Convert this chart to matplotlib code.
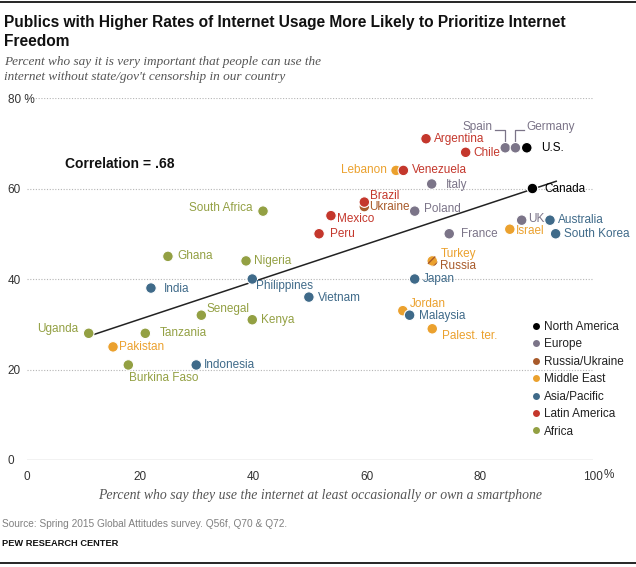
import matplotlib.pyplot as plt
from matplotlib.lines import Line2D

# data
countries = ['U.S.', 'Canada', 'Spain', 'Germany', 'Italy', 'Poland', 'UK', 'France',
             'Russia', 'Ukraine', 'Lebanon', 'Israel', 'Turkey', 'Jordan', 'Palest. ter.',
             'Australia', 'South Korea', 'Japan', 'Malaysia', 'Vietnam', 'Philippines',
             'India', 'Indonesia', 'Argentina', 'Chile', 'Venezuela', 'Brazil', 'Mexico',
             'Peru', 'South Africa', 'Ghana', 'Nigeria', 'Senegal', 'Kenya', 'Uganda',
             'Tanzania', 'Burkina Faso', 'Pakistan']
internet = [88.3, 89.3, 84.5, 86.3, 71.5, 68.5, 87.4, 74.6,
            71.6, 59.6, 65.2, 85.3, 71.6, 66.4, 71.6,
            92.4, 93.4, 68.5, 67.6, 49.8, 39.8,
            21.9, 29.9, 70.5, 77.5, 66.5, 59.6, 53.7,
            51.6, 41.7, 24.9, 38.7, 30.8, 39.8, 10.9,
            20.9, 17.9, 15.2]
freedom = [69, 60, 69, 69, 61, 55, 53, 50,
           44, 56, 64, 51, 44, 33, 29,
           53, 50, 40, 32, 36, 40,
           38, 21, 71, 68, 64, 57, 54,
           50, 55, 45, 44, 32, 31, 28,
           28, 21, 25]
region = ['North America', 'North America', 'Europe', 'Europe', 'Europe', 'Europe', 'Europe', 'Europe',
          'Russia/Ukraine', 'Russia/Ukraine', 'Middle East', 'Middle East', 'Middle East', 'Middle East', 'Middle East',
          'Asia/Pacific', 'Asia/Pacific', 'Asia/Pacific', 'Asia/Pacific', 'Asia/Pacific', 'Asia/Pacific',
          'Asia/Pacific', 'Asia/Pacific', 'Latin America', 'Latin America', 'Latin America', 'Latin America', 'Latin America',
          'Latin America', 'Africa', 'Africa', 'Africa', 'Africa', 'Africa', 'Africa',
          'Africa', 'Africa', 'Middle East']
trend_x = [11, 93.5]
trend_y = [27.4, 61.6]

regions = ['North America', 'Europe', 'Russia/Ukraine', 'Middle East', 'Asia/Pacific', 'Latin America', 'Africa']
colors = {'North America': '#000000', 'Europe': '#7b7488', 'Russia/Ukraine': '#a85a2a',
          'Middle East': '#eba12e', 'Asia/Pacific': '#3f6a89', 'Latin America': '#c4372c',
          'Africa': '#93a043'}

# label offsets in pixels (dx, dy, ha)
offsets = {
    'U.S.': (14, 0, 'left'), 'Canada': (12, 0, 'left'), 'Spain': (-13, 21, 'right'),
    'Germany': (11, 21, 'left'), 'Italy': (14, -1, 'left'), 'Poland': (9, 2, 'left'),
    'UK': (6, 1, 'left'), 'France': (12, 0, 'left'), 'Russia': (8, -5, 'left'),
    'Ukraine': (5, 0, 'left'), 'Lebanon': (-9, 0, 'right'), 'Israel': (6, -2, 'left'),
    'Turkey': (9, 7, 'left'), 'Jordan': (7, 7, 'left'), 'Palest. ter.': (10, -7, 'left'),
    'Australia': (8, 0, 'left'), 'South Korea': (8, 0, 'left'), 'Japan': (8, 0, 'left'),
    'Malaysia': (9, -1, 'left'), 'Vietnam': (9, -1, 'left'), 'Philippines': (4, -7, 'left'),
    'India': (13, -1, 'left'), 'Indonesia': (8, 0, 'left'), 'Argentina': (8, 0, 'left'),
    'Chile': (8, -1, 'left'), 'Venezuela': (9, 0, 'left'), 'Brazil': (6, 6, 'left'),
    'Mexico': (6, -3, 'left'), 'Peru': (11, 0, 'left'), 'South Africa': (-11, 3, 'right'),
    'Ghana': (9, 0, 'left'), 'Nigeria': (8, 0, 'left'), 'Senegal': (5, 6, 'left'),
    'Kenya': (9, 0, 'left'), 'Uganda': (-10, 4, 'right'), 'Tanzania': (14, 0, 'left'),
    'Burkina Faso': (35, -13, 'center'), 'Pakistan': (6, 0, 'left'),
}

font = ['Liberation Sans', 'DejaVu Sans']
serif = ['Liberation Serif', 'DejaVu Serif']

fig = plt.figure(figsize=(6.36, 5.67), dpi=100)
ax = fig.add_axes([27 / 636, 107 / 567, 566 / 636, 362 / 567])
ax.set_xlim(0, 100)
ax.set_ylim(0, 80)
for s in ax.spines.values():
    s.set_visible(False)

# gridlines
for g in [20, 40, 60, 80]:
    ax.plot([0, 100], [g, g], color='#b5b5b5', lw=0.8, ls=(0, (1, 1.5)), zorder=0)
ax.plot([0, 100], [0, 0], color='#9a9a9a', lw=0.9, zorder=0)

ax.set_xticks([0, 20, 40, 60, 80, 100])
ax.set_xticklabels(['0', '20', '40', '60', '80', '100'])
ax.set_yticks([0, 20, 40, 60, 80])
ax.set_yticklabels(['0', '20', '40', '60', '80 %'])
ax.tick_params(axis='both', length=0, labelsize=8.5, colors='#333333')
ax.tick_params(axis='y', pad=14)
ax.tick_params(axis='x', pad=8)
for t in ax.get_yticklabels():
    t.set_horizontalalignment('left')
    t.set_family(font)
for t in ax.get_xticklabels():
    t.set_family(font)
ax.annotate('%', (100, 0), xytext=(11, -15), textcoords='offset pixels', ha='left', va='center',
            fontsize=8.5, color='#333333', family=font, annotation_clip=False)

# trend line
ax.plot(trend_x, trend_y, color='#222222', lw=1.1, zorder=2)

# dots
cols = [colors[r] for r in region]
ax.scatter(internet, freedom, s=58, c=cols, edgecolors='white', linewidths=0.8, zorder=3, clip_on=False)
# Turkey/Russia overlap drawn striped
i = countries.index('Turkey')
ax.scatter([internet[i]], [freedom[i]], s=58, facecolors='none', edgecolors=colors['Russia/Ukraine'],
           linewidths=0, hatch='////', zorder=4)

px_x = 566 / 100
px_y = 362 / 80
for name, x, y, r in zip(countries, internet, freedom, region):
    dx, dy, ha = offsets[name]
    ax.annotate(name, (x, y), xytext=(dx, dy), textcoords='offset pixels', ha=ha, va='center',
                fontsize=8.5, color=colors[r], family=font, annotation_clip=False)

# leader lines for Spain and Germany
for name, hx in [('Spain', -10), ('Germany', 9)]:
    i = countries.index(name)
    x, y = internet[i], freedom[i]
    ax.plot([x + hx / px_x, x, x], [y + 18 / px_y, y + 18 / px_y, y + 5 / px_y],
            color=colors['Europe'], lw=0.9, zorder=2)

ax.text(6.7, 65.5, 'Correlation = .68', fontsize=10, fontweight='bold', family=font,
        color='#111111', va='center')

# legend
handles = [Line2D([], [], marker='o', ls='none', markersize=5, markerfacecolor=colors[r],
                  markeredgecolor='none', label=r) for r in regions]
leg = ax.legend(handles=handles, loc='upper left', bbox_to_anchor=(532 / 636, 1 - 321 / 567),
                bbox_transform=fig.transFigure, frameon=False, handlelength=0.6, handletextpad=0.4,
                labelspacing=0.46, borderpad=0, borderaxespad=0, prop={'family': font, 'size': 8.5})
for t in leg.get_texts():
    t.set_color('#222222')

# titles and notes
fig.text(4 / 636, 1 - 22 / 567, 'Publics with Higher Rates of Internet Usage More Likely to Prioritize Internet',
         fontsize=11.2, fontweight='bold', family=font, va='center', color='#111111')
fig.text(4 / 636, 1 - 42 / 567, 'Freedom', fontsize=11.2, fontweight='bold', family=font,
         va='center', color='#111111')
fig.text(4 / 636, 1 - 62 / 567, 'Percent who say it is very important that people can use the',
         fontsize=9.5, style='italic', family=serif, va='center', color='#555555')
fig.text(4 / 636, 1 - 77 / 567, "internet without state/gov't censorship in our country",
         fontsize=9.5, style='italic', family=serif, va='center', color='#555555')
fig.text(320 / 636, 1 - 495 / 567, 'Percent who say they use the internet at least occasionally or own a smartphone',
         fontsize=9.9, style='italic', family=serif, ha='center', va='center', color='#555555')
fig.text(2 / 636, 1 - 524 / 567, 'Source: Spring 2015 Global Attitudes survey. Q56f, Q70 & Q72.',
         fontsize=7.3, family=font, va='center', color='#808080')
fig.text(2 / 636, 1 - 544 / 567, 'PEW RESEARCH CENTER', fontsize=6.7, fontweight='bold', family=font,
         va='center', color='#111111')

fig.add_artist(Line2D([0, 1], [1 - 2 / 567, 1 - 2 / 567], color='black', lw=1.2))
fig.add_artist(Line2D([0, 1], [1 - 563 / 567, 1 - 563 / 567], color='black', lw=1.2))

fig.savefig('out.png', dpi=100)
